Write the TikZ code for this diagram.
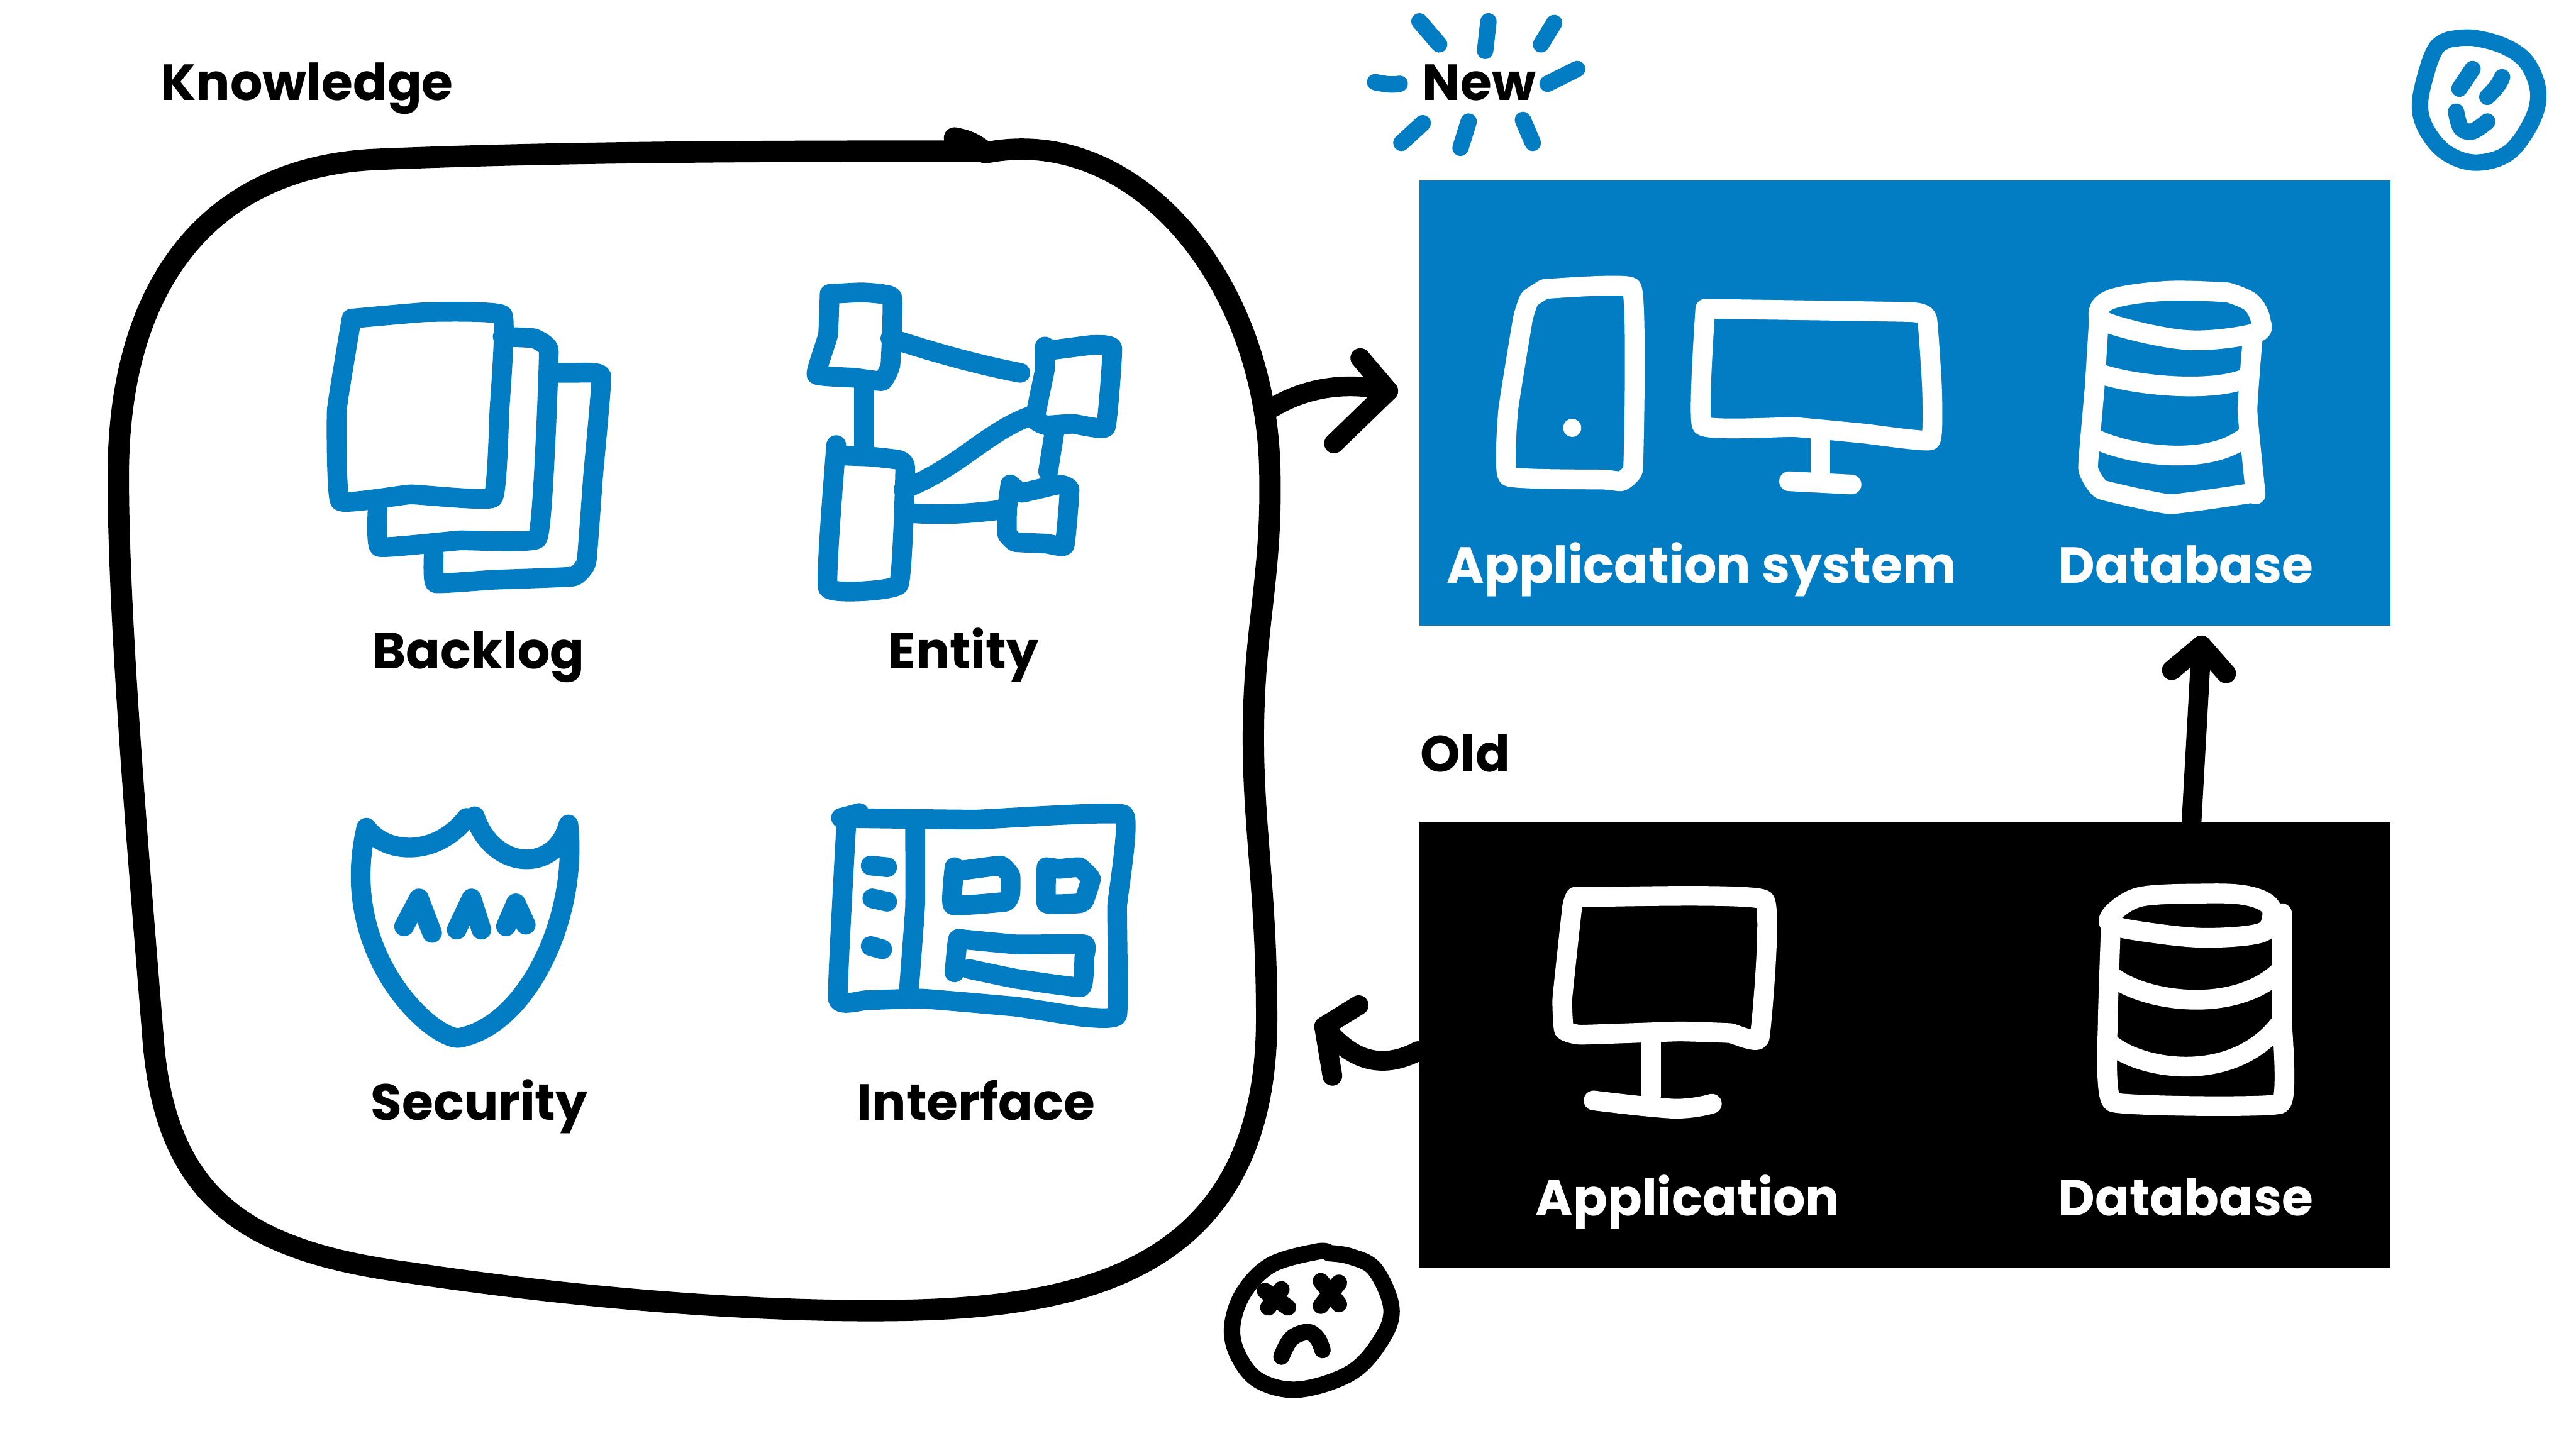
\documentclass[tikz,border=0pt]{standalone}
\usepackage{fontspec}
\setmainfont{Poppins}
\definecolor{inkblue}{HTML}{027DC4}
\tikzset{
  pen/.style={line width=1.2mm,line cap=round,line join=round},
  bigpen/.style={line width=1.3mm,line cap=round,line join=round},
  facepen/.style={line width=1.0mm,line cap=round,line join=round},
  loose/.style={smooth,tension=0.6},
  tight/.style={smooth,tension=0.18},
  lbl/.style={anchor=base west,inner sep=0pt,font=\fontsize{8.8}{10}\selectfont\bfseries},
  panel/.style={rectangle,inner sep=0pt,minimum width=5.91cm,minimum height=2.71cm}
}
\begin{document}
\begin{tikzpicture}[x=0.01cm,y=-0.01cm]

\useasboundingbox (0,0) rectangle (1568,881.5) ;

% panels

\node[panel,fill=inkblue] (newbox) at (1159.5,245.5) {} ;
\node[panel,fill=black] (oldbox) at (1159.5,636) {} ;

% titles

\node[lbl] (knowledgelbl) at (97,61) {Knowledge} ;
\node[lbl] (newlbl) at (865,61) {New} ;
\node[lbl] (oldlbl) at (864,470) {Old} ;
\node[lbl] (backloglbl) at (226,407) {Backlog} ;
\node[lbl] (entitylbl) at (540,407) {Entity} ;
\node[lbl] (securitylbl) at (225,682) {Security} ;
\node[lbl] (interfacelbl) at (521,682) {Interface} ;
\node[lbl,white] (appsyslbl) at (880,355) {Application system} ;
\node[lbl,white] (newdblbl) at (1252,355) {Database} ;
\node[lbl,white] (applbl) at (934,740) {Application} ;
\node[lbl,white] (olddblbl) at (1252,740) {Database} ;

% big outline

\draw[bigpen] (597,92) .. controls (480,92) and (350,92) .. (230,97) .. controls (130,101) and (72,170) .. (72,290) .. controls (72,380) and (85,530) .. (93,630) .. controls (100,730) and (150,762) .. (250,775) .. controls (350,790) and (450,798) .. (530,798) .. controls (650,798) and (771,780) .. (771,620) .. controls (771,540) and (762,500) .. (763,440) .. controls (764,380) and (774,350) .. (773,290) .. controls (772,170) and (690,75) .. (600,93) ;
\draw[bigpen] (581,84) to[bend left=15] (600,93) ;

% backlog

\draw[pen,inkblue] plot[tight] coordinates {(214,194) (260,190) (306,192) (304,250) (300,303) (250,301) (207,305) (205,250) (214,194)} ;
\draw[pen,inkblue] plot[tight] coordinates {(306,205) (325,206) (334,213) (332,270) (327,328) (280,329) (231,333) (230,307)} ;
\draw[pen,inkblue] plot[tight] coordinates {(334,227) (350,227) (366,229) (361,290) (357,342) (349,351) (300,353) (265,355) (264,338)} ;

% entity

\draw[pen,inkblue] plot[tight] coordinates {(505,179) (525,178) (543,181) (542,222) (537,232) (520,230) (497,228) (504,204) (505,179)} ;
\draw[pen,inkblue] (542,206) .. controls (570,215) and (595,222) .. (621,227) ;
\draw[pen,inkblue] (526,232) -- (526,276) ;
\draw[pen,inkblue] plot[tight] coordinates {(509,271) (509,277) (530,278) (547,280) (551,285) (547,356) (504,358) (509,271)} ;
\draw[pen,inkblue] (550,298) .. controls (585,284) and (600,263) .. (628,253) ;
\draw[pen,inkblue] plot[tight] coordinates {(636,211) (641,213) (665,210) (677,212) (673,260) (653,258) (637,259) (630,255) (636,225) (636,211)} ;
\draw[pen,inkblue] (642,262) -- (638,287) ;
\draw[pen,inkblue] plot[tight] coordinates {(615,295) (622,300) (644,295) (651,298) (648,332) (637,331) (618,330) (613,325) (613,310) (615,295)} ;
\draw[pen,inkblue] (550,312) .. controls (570,314) and (590,313) .. (612,310) ;

% security

\draw[pen,inkblue] (223,504) .. controls (235,520) and (265,522) .. (284,498) ;
\draw[pen,inkblue] (289,497) .. controls (300,530) and (338,532) .. (346,502) .. controls (352,560) and (320,625) .. (279,632) .. controls (262,632) and (205,580) .. (223,504) ;
\draw[pen,inkblue] (246,564) -- (255,547) -- (263,568) ;
\draw[pen,inkblue] (278,566) -- (287,547) -- (293,566) ;
\draw[pen,inkblue] (308,564) -- (314,550) -- (320,563) ;

% interface

\draw[pen,inkblue] plot[tight] coordinates {(512,498) (594,499) (684,496) (680,552) (680,618) (658,619) (619,613) (561,608) (527,609) (510,608) (515,504)} ;
\draw[pen,inkblue] (512,498) -- (523,495) ;
\draw[pen,inkblue] plot[tight] coordinates {(557,500) (557,552) (553,606)} ;
\draw[pen,inkblue] (530,527) -- (540,528) ;
\draw[pen,inkblue] (531,547) -- (540,549) ;
\draw[pen,inkblue] (530,576) -- (537,578) ;
\draw[pen,inkblue] plot[tight] coordinates {(581,528) (585,530) (609,527) (615,533) (615,544) (612,549) (580,551) (581,528)} ;
\draw[pen,inkblue] plot[tight] coordinates {(637,528) (645,529) (657,528) (664,535) (660,548) (657,550) (637,550) (637,528)} ;
\draw[pen,inkblue] plot[tight] coordinates {(581,592) (583,572) (587,572) (619,575) (660,575) (660,583) (658,601) (619,596) (590,590)} ;

% application system

\draw[pen,white] plot[tight] coordinates {(940,176) (993,175) (995,236) (994,286) (987,293) (976,292) (918,290) (918,250) (927,194) (931,182) (940,176)} ;
\fill[white] (957,260.5) circle (5.5) ;
\draw[pen,white] plot[tight] coordinates {(1038,188) (1163,190) (1173,194) (1176,236) (1175,268) (1135,264) (1092,260) (1036,259) (1038,188)} ;
\draw[pen,white] (1108,267) -- (1108,289) ;
\draw[pen,white] (1089,293) -- (1127,295) ;

% new database

\draw[pen,white] plot[loose] coordinates {(1356,178) (1321,177) (1289,181) (1278,188) (1284,197) (1331,207) (1372,203) (1376,195) (1370,184) (1356,178)} ;
\draw[pen,white] plot[tight] coordinates {(1278,188) (1275,236) (1271,285) (1279,298) (1321,307) (1372,300)} ;
\draw[pen,white] plot[tight] coordinates {(1371,208) (1368,250) (1373,301)} ;
\draw[pen,white] (1277,227) .. controls (1295,234) and (1345,240) .. (1368,230) ;
\draw[pen,white] (1275,267) .. controls (1295,277) and (1345,285) .. (1368,265) ;

% old application

\draw[pen,white] plot[tight] coordinates {(959,546) (976,546) (1074,548) (1071,632) (1053,629) (1022,628) (962,630) (952,627) (951,608) (957,552) (959,546)} ;
\draw[pen,white] (1005,634) -- (1005,667) ;
\draw[pen,white] plot[loose] coordinates {(970,670) (1019,675) (1042,672)} ;

% old database

\draw[pen,white] plot[loose] coordinates {(1286,556) (1303,546) (1343,544) (1366,545) (1380,550) (1383,558) (1376,568) (1343,571) (1310,568) (1285,563) (1286,556)} ;
\draw[pen,white] plot[tight] coordinates {(1285,560) (1283,622) (1286,671) (1388,672) (1389,620) (1389,556)} ;
\draw[pen,white] (1285,594) .. controls (1305,610) and (1360,618) .. (1388,591) ;
\draw[pen,white] (1285,636) .. controls (1305,652) and (1360,660) .. (1388,623) ;

% arrows

\coordinate (knowledgeout) at (775,248) ;
\coordinate (knowledgein) at (806,625) ;
\coordinate (newin) at (845,238) ;
\coordinate (newdbin) at (1340,393) ;
\coordinate (olddbout) at (1334,500) ;
\draw[pen] (knowledgeout) .. controls (795,236) and (820,232) .. (newin) ;
\draw[pen] (828,218) -- (newin) -- (812,270) ;
\draw[pen] (olddbout) -- (newdbin) ;
\draw[pen] (1322,408) -- (newdbin) -- (1355,410) ;
\draw[pen] (oldbox.west |- 0,640) .. controls (840,652) and (822,645) .. (knowledgein) ;
\draw[pen] (827,612) -- (knowledgein) -- (811,655) ;

% rays

\draw[facepen,inkblue] (864,13) -- (876,27) ;
\draw[facepen,inkblue] (906,13) -- (904,31) ;
\draw[facepen,inkblue] (946,14) -- (938,27) ;
\draw[facepen,inkblue] (960,42) -- (942,51) ;
\draw[facepen,inkblue] (837,50) .. controls (842,51) and (847,52) .. (852,51) ;
\draw[facepen,inkblue] (866,75) -- (853,87) ;
\draw[facepen,inkblue] (894,74) -- (889,90) ;
\draw[facepen,inkblue] (927,73) -- (933,87) ;

% happy face

\draw[facepen,inkblue] plot[loose] coordinates {(1491,24) (1505,23) (1524,28) (1538,38) (1545,56) (1541,74) (1527,93) (1507,99) (1489,93) (1477,79) (1473,64) (1477,44) (1483,29) (1491,24)} ;
\draw[facepen,inkblue] (1505,42) -- (1497,54) ;
\draw[facepen,inkblue] (1523,47) .. controls (1521,52) and (1518,55) .. (1514,59) ;
\draw[facepen,inkblue] plot[loose] coordinates {(1495,68) (1498,78) (1505,80) (1514,74)} ;

% sad face

\draw[facepen] plot[loose] coordinates {(809,763) (822,765) (837,773) (847,797) (840,817) (822,836) (791,846) (767,841) (754,826) (750,808) (757,787) (774,770) (802,762) (809,763)} ;
\draw[facepen] (770,786) -- (784,796) ;
\draw[facepen] (780,785) -- (772,796) ;
\draw[facepen] (804,780) -- (815,794) ;
\draw[facepen] (815,781) -- (804,795) ;
\draw[facepen] plot[loose] coordinates {(780,826) (786,815) (796,811) (802,815) (805,822)} ;

\end{tikzpicture}
\end{document}
